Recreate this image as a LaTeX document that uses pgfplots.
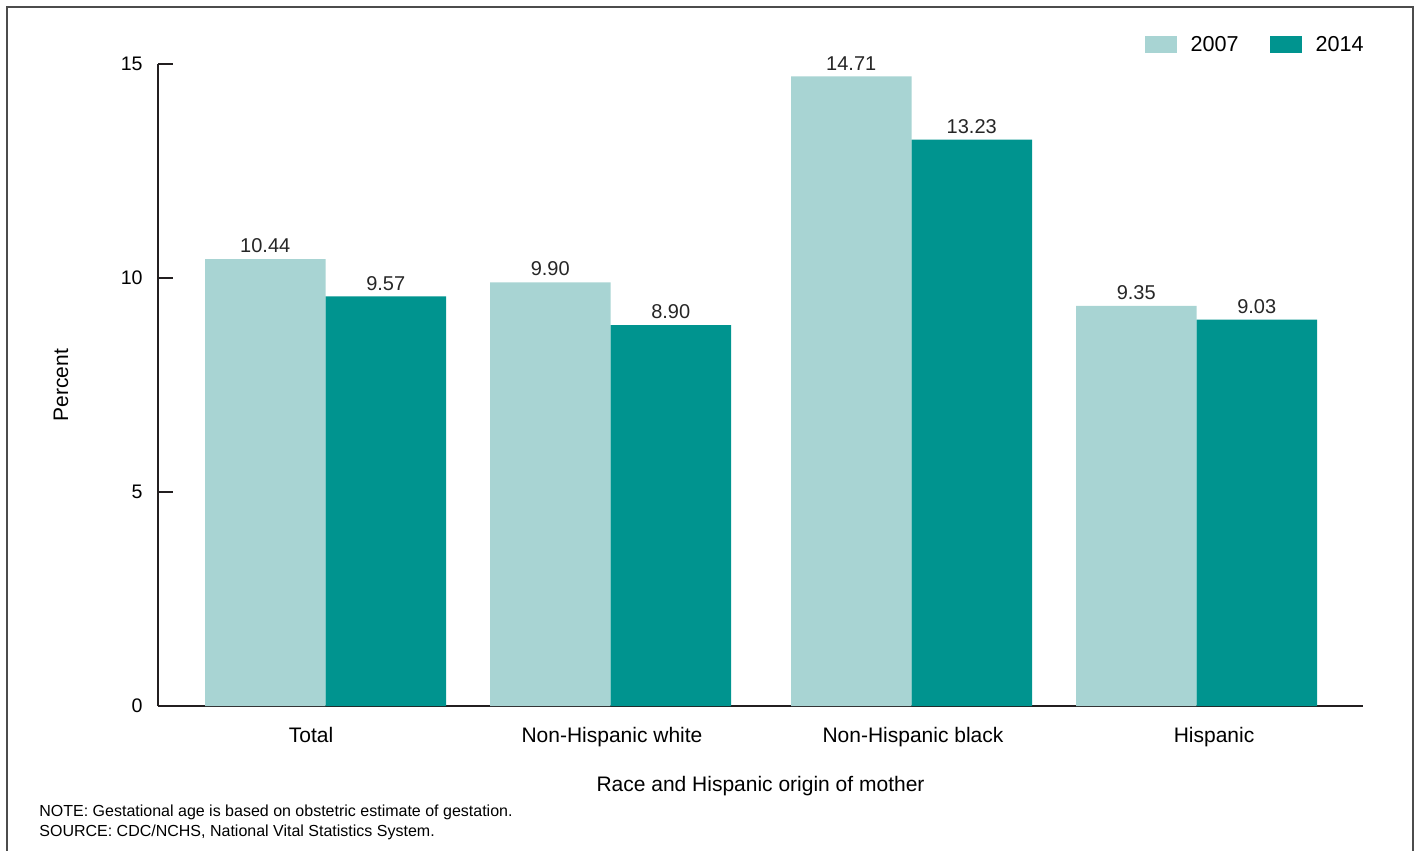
\documentclass[border=0pt]{standalone}
\usepackage{fontspec}
\setmainfont{Liberation Sans}
\usepackage{pgfplots}
\pgfplotsset{compat=1.18}
\definecolor{lightteal}{RGB}{168,212,211}
\definecolor{darkteal}{RGB}{0,148,143}
\definecolor{axisgray}{RGB}{35,31,32}

% Preterm birth percentages by race and Hispanic origin of mother
% x positions are the group centres on a 158--1363 scale
\pgfplotstableread{
x       y
325.5   10.44
610.5   9.90
911.5   14.71
1196.5  9.35
}\yearA
\pgfplotstableread{
x       y
325.5   9.57
610.5   8.90
911.5   13.23
1196.5  9.03
}\yearB

\begin{document}
\begin{tikzpicture}
\path[use as bounding box] (0,0) rectangle (708pt,425pt);
\draw[line width=1pt, black!70] (3.5pt,-2pt) -- (3.5pt,421.5pt) -- (706.5pt,421.5pt) -- (706.5pt,-2pt);
\begin{axis}[
  at={(79pt,72pt)}, anchor=south west,
  scale only axis, width=602.5pt, height=321pt,
  xmin=158, xmax=1363, ymin=0, ymax=15,
  axis x line*=bottom, axis y line*=left,
  axis line style={line width=1pt, color=axisgray, -},
  ytick={0,5,10,15},
  y tick style={line width=1pt, color=axisgray},
  major tick length=7.5pt, tick align=inside,
  /pgf/number format/assume math mode=true,
  y tick label style={font=\fontsize{9.8}{11}\selectfont, inner sep=0pt, xshift=-7.5pt, anchor=east},
  xtick={311,612,913,1214},
  xticklabels={Total, Non-Hispanic white, Non-Hispanic black, Hispanic},
  x tick style={draw=none},
  x tick label style={font=\fontsize{10.5}{12}\selectfont, anchor=base, inner sep=0pt, yshift=-10.5pt},
  xlabel={Race and Hispanic origin of mother},
  xlabel style={font=\fontsize{10.5}{12}\selectfont, at={(axis description cs:0.5,0)}, anchor=base, inner sep=0pt, yshift=-42.5pt},
  ylabel={Percent},
  ylabel style={font=\fontsize{10.5}{12}\selectfont, at={(axis description cs:-0.0805,0.5)}, anchor=center, inner sep=0pt},
  ybar=0pt, bar width=120.5,
  nodes near coords={\pgfmathprintnumber[fixed,fixed zerofill,precision=2,assume math mode=true]{\pgfplotspointmeta}},
  every node near coord/.append style={font=\fontsize{10}{12}\selectfont, anchor=south, inner sep=0pt, yshift=2.85pt, color=black!85},
  legend columns=2,
  legend style={draw=none, fill=none, at={(rel axis cs:1,1)}, anchor=east, yshift=9.5pt, xshift=5.5pt,
    font=\fontsize{10.8}{12}\selectfont,
    /tikz/every odd column/.append style={column sep=5pt},
    /tikz/every even column/.append style={column sep=13.5pt}},
  clip=false,
]
\addplot[fill=lightteal, draw=none, bar shift=-60.25,
  legend image code/.code={\fill[lightteal] (0pt,-4.25pt) rectangle (16pt,4.25pt);}]
  table[x=x, y=y] {\yearA};
\addlegendentry{2007}
\addplot[fill=darkteal, draw=none, bar shift=60.25,
  legend image code/.code={\fill[darkteal] (0pt,-4.25pt) rectangle (16pt,4.25pt);}]
  table[x=x, y=y] {\yearB};
\addlegendentry{2014}
\end{axis}
\node[anchor=base west, inner sep=0pt, font=\fontsize{8}{9.5}\selectfont] at (19.5pt,16.5pt)
  {NOTE: Gestational age is based on obstetric estimate of gestation.};
\node[anchor=base west, inner sep=0pt, font=\fontsize{8}{9.5}\selectfont] at (19.5pt,7pt)
  {SOURCE: CDC/NCHS, National Vital Statistics System.};
\end{tikzpicture}
\end{document}
